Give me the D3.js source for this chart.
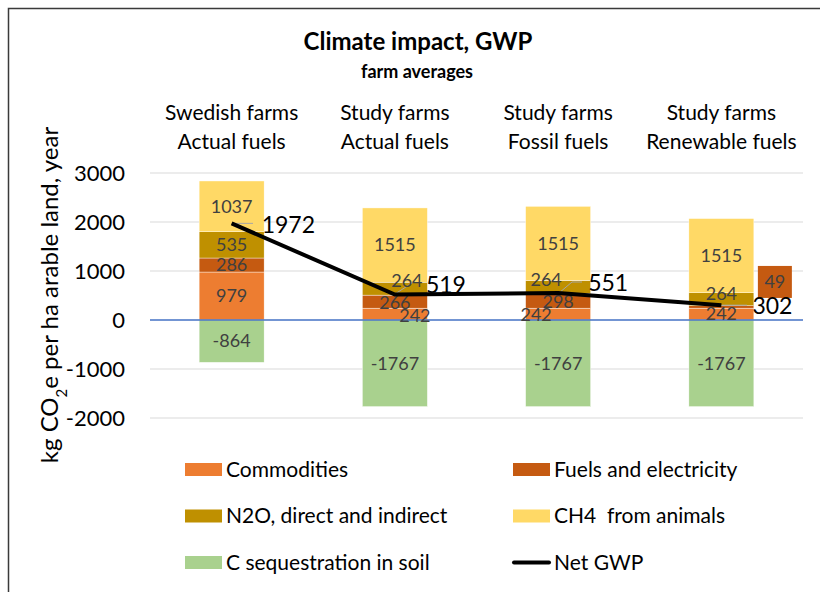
<!DOCTYPE html>
<html>
<head>
<meta charset="utf-8">
<script src="https://cdn.jsdelivr.net/npm/d3@7"></script>
<style>
  body { margin: 0; background: #fff; }
  text { font-family: Lato, "Open Sans", sans-serif; }
</style>
</head>
<body>
<div id="chart"></div>
<script>
// farms / scenarios
var categories = ["Swedish farms|Actual fuels", "Study farms|Actual fuels", "Study farms|Fossil fuels", "Study farms|Renewable fuels"];
var seriesNames = ["Commodities", "Fuels and electricity", "N2O, direct and indirect", "CH4  from animals", "C sequestration in soil"];
var commodities = [979, 242, 242, 242];
var fuels = [286, 266, 298, 49];
var n2o = [535, 264, 264, 264];
var ch4 = [1037, 1515, 1515, 1515];
var cSeq = [-864, -1767, -1767, -1767];
var netGWP = [1972, 519, 551, 302];
var yTicks = [-2000, -1000, 0, 1000, 2000, 3000];

var colors = ["#ED7D31", "#C55A11", "#BF9000", "#FFD966", "#A9D18E"];

var W = 820, H = 592;
var svg = d3.select("#chart").append("svg")
    .attr("width", W)
    .attr("height", H);

// chart border (runs off the right and bottom edge)
svg.append("rect")
    .attr("x", 8.5).attr("y", 8.5)
    .attr("width", W + 20).attr("height", H + 20)
    .style("fill", "#fff")
    .style("stroke", "#3a3a3a")
    .style("stroke-width", 1.5);

var x = d3.scaleBand()
    .domain(categories)
    .range([150, 803])
    .paddingInner(0.602)
    .paddingOuter(0.301);

var y = d3.scaleLinear()
    .domain([-2000, 3000])
    .range([418, 173]);

// gridlines
svg.append("g").selectAll("line")
    .data(yTicks.filter(function(d) { return d !== 0; }))
  .enter().append("line")
    .attr("x1", 150).attr("x2", 803)
    .attr("y1", function(d) { return y(d); })
    .attr("y2", function(d) { return y(d); })
    .style("stroke", "#d9d9d9")
    .style("stroke-width", 1);

// y axis labels only (no domain line)
var yAxis = svg.append("g")
    .attr("transform", "translate(125,0)")
    .call(d3.axisLeft(y).tickValues(yTicks).tickSize(0).tickPadding(0)
      .tickFormat(function(d) { return String(d); }));
yAxis.select(".domain").remove();
yAxis.selectAll("text")
    .style("font-family", "Lato, sans-serif")
    .style("font-size", "22px")
    .style("fill", "#000");

// stacked values per category
var rows = categories.map(function(c, i) {
  return {cat: c, vals: [commodities[i], fuels[i], n2o[i], ch4[i], cSeq[i]]};
});

var segs = [];
rows.forEach(function(r, i) {
  var pos = 0;
  r.vals.forEach(function(v, k) {
    if (v >= 0) {
      segs.push({cat: r.cat, i: i, k: k, v: v, y0: pos, y1: pos + v});
      pos += v;
    } else {
      segs.push({cat: r.cat, i: i, k: k, v: v, y0: v, y1: 0});
    }
  });
});

svg.append("g").selectAll("rect")
    .data(segs)
  .enter().append("rect")
    .attr("x", function(d) { return x(d.cat); })
    .attr("width", x.bandwidth())
    .attr("y", function(d) { return y(d.y1); })
    .attr("height", function(d) { return y(d.y0) - y(d.y1); })
    .style("fill", function(d) { return colors[d.k]; })
    .style("stroke", "#fff")
    .style("stroke-width", 0.4);

// zero line
svg.append("line")
    .attr("x1", 150).attr("x2", 803)
    .attr("y1", y(0)).attr("y2", y(0))
    .style("stroke", "#4472C4")
    .style("stroke-width", 1.3);

// label nudges, like dragged labels in the original (cat index + series index)
var nudge = {
  "1-1": [0, 1], "1-2": [12, -8], "1-0": [20, 2],
  "2-2": [-12, -7], "2-1": [0, 1], "2-0": [-22, 1],
  "3-2": [0, -6], "3-1": [53.5, -25]
};

// boxed label for the small fuels value of the last farm
var boxSeg = segs.filter(function(d) { return d.i === 3 && d.k === 1; })[0];
svg.append("rect")
    .attr("x", x(boxSeg.cat) + x.bandwidth() / 2 + 53.5 - 17)
    .attr("y", y((boxSeg.y0 + boxSeg.y1) / 2) - 25 - 16)
    .attr("width", 34).attr("height", 32)
    .style("fill", colors[1]);

// leader lines
var lead = d3.line();
var leaders = [
  [[x(categories[0]) + x.bandwidth() / 2, y(netGWP[0])], [253, y(netGWP[0])]],
  [[395, 294], [412, 283]],
  [[559, y(netGWP[2])], [572, 282], [582, 282]],
  [[x(categories[3]) + x.bandwidth() / 2, y(netGWP[3])], [747, y(netGWP[3])]]
];
svg.append("g").selectAll("path")
    .data(leaders)
  .enter().append("path")
    .attr("d", lead)
    .style("fill", "none")
    .style("stroke", "#a6a6a6")
    .style("stroke-width", 1);

svg.append("g").selectAll("text")
    .data(segs)
  .enter().append("text")
    .attr("x", function(d) {
      var n = nudge[d.i + "-" + d.k] || [0, 0];
      return x(d.cat) + x.bandwidth() / 2 + n[0];
    })
    .attr("y", function(d) {
      var n = nudge[d.i + "-" + d.k] || [0, 0];
      return y((d.y0 + d.y1) / 2) + n[1];
    })
    .attr("dy", "0.35em")
    .attr("text-anchor", "middle")
    .style("font-size", "18px")
    .style("fill", "#404040")
    .text(function(d) { return d.v; });

// net GWP line
var line = d3.line()
    .x(function(d, i) { return x(categories[i]) + x.bandwidth() / 2; })
    .y(function(d) { return y(d); });

svg.append("path")
    .datum(netGWP)
    .attr("d", line)
    .style("fill", "none")
    .style("stroke", "#000")
    .style("stroke-width", 4);

var netNudge = [[30, 10], [31, -1.5], [30, -2], [31, 9]];
svg.append("g").selectAll("text")
    .data(netGWP)
  .enter().append("text")
    .attr("x", function(d, i) { return x(categories[i]) + x.bandwidth() / 2 + netNudge[i][0]; })
    .attr("y", function(d, i) { return y(d) + netNudge[i][1]; })
    .style("font-size", "23px")
    .style("fill", "#000")
    .text(function(d) { return d; });

// category labels above the plot
var catText = svg.append("g").selectAll("text")
    .data(categories)
  .enter().append("text")
    .attr("text-anchor", "middle")
    .style("font-size", "21px")
    .style("fill", "#000");
catText.append("tspan")
    .attr("x", function(d) { return x(d) + x.bandwidth() / 2; })
    .attr("y", 120)
    .text(function(d) { return d.split("|")[0]; });
catText.append("tspan")
    .attr("x", function(d) { return x(d) + x.bandwidth() / 2; })
    .attr("y", 149)
    .text(function(d) { return d.split("|")[1]; });

// titles
svg.append("text")
    .attr("x", 418).attr("y", 50)
    .attr("text-anchor", "middle")
    .style("font-size", "24px")
    .style("font-weight", "bold")
    .text("Climate impact, GWP");
svg.append("text")
    .attr("x", 417).attr("y", 78)
    .attr("text-anchor", "middle")
    .style("font-size", "18px")
    .style("font-weight", "bold")
    .text("farm averages");

// y axis title
var yt = svg.append("text")
    .attr("transform", "translate(58,295) rotate(-90)")
    .attr("text-anchor", "middle")
    .style("font-size", "24px")
    .style("fill", "#000");
yt.append("tspan").text("kg CO");
yt.append("tspan").attr("baseline-shift", "sub").style("font-size", "15px").text("2");
yt.append("tspan").text("e per ha arable land, year");

// legend
var legendItems = seriesNames.map(function(n, k) { return {name: n, color: colors[k], line: false}; });
legendItems.push({name: "Net GWP", color: "#000", line: true});
var lg = svg.append("g").selectAll("g")
    .data(legendItems)
  .enter().append("g")
    .attr("transform", function(d, i) {
      return "translate(" + (i % 2 ? 513 : 185) + "," + (469.5 + Math.floor(i / 2) * 46.5) + ")";
    });
lg.filter(function(d) { return !d.line; }).append("rect")
    .attr("x", 0).attr("y", -6.5)
    .attr("width", 37).attr("height", 13)
    .style("fill", function(d) { return d.color; });
lg.filter(function(d) { return d.line; }).append("line")
    .attr("x1", 1).attr("x2", 36)
    .attr("y1", 0).attr("y2", 0)
    .style("stroke", "#000")
    .style("stroke-width", 4)
    .style("stroke-linecap", "round");
lg.append("text")
    .attr("x", 41)
    .attr("dy", "0.35em")
    .style("font-size", "21px")
    .style("fill", "#000")
    .style("white-space", "pre")
    .text(function(d) { return d.name; });
</script>
</body>
</html>
